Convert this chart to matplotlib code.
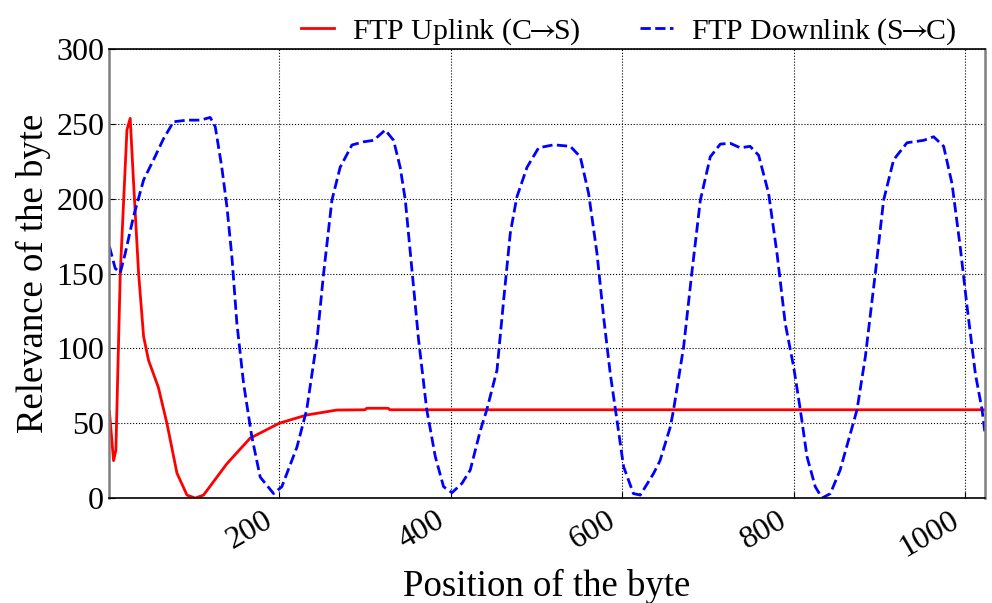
import matplotlib
matplotlib.use("Agg")
import matplotlib.pyplot as plt
from matplotlib.transforms import ScaledTranslation

plt.rcParams['font.family'] = ['Liberation Serif', 'DejaVu Serif']
plt.rcParams['mathtext.fontset'] = 'stix'

# Uplink (C->S) series: positions and relevance values
up_x = [2, 6.8, 9.5, 14.6, 22.4, 26.2, 30, 36, 41.8, 47.6, 59, 69, 80.7, 92.4, 102,
        111.7, 139, 166, 200, 232, 267, 300, 302, 327, 329, 400, 600, 800, 1023]
up_y = [57.7, 25, 32, 150, 246, 253.7, 212, 150, 108, 92, 74, 50, 16.7, 2, 0,
        2, 23, 40, 50, 55.5, 58.8, 59, 60, 60, 59, 59, 59, 59, 59]

# Downlink (S->C) series
down_x = [2, 8.7, 14.6, 20.4, 30, 41.8, 53.4, 65, 76.7, 92.4, 108, 119.5, 125.4, 133,
          139, 144.8, 150.6, 158.4, 168, 177.8, 193.4, 203, 220.6, 232, 244, 251.7,
          261.4, 271, 284.8, 298.3, 310, 323.6, 333.3, 341, 347, 354.8, 362.5, 372,
          382, 391.6, 401.4, 413, 422.7, 434.4, 442, 453.9, 461.6, 469.4, 477, 488.9,
          502.4, 520, 539.4, 551, 560.7, 570.5, 578.2, 586, 593.8, 601.5, 613, 621,
          636.5, 644, 656, 659.8, 671.5, 681, 691, 702.6, 714.3, 726, 737.6, 749, 759,
          770.6, 780.4, 790, 799.8, 807.6, 815.4, 825, 833, 842.6, 854, 873.7, 883.4,
          895, 904.7, 916.4, 932, 951.4, 963, 974.7, 984.5, 994, 1002, 1011.7, 1019.5,
          1023]
down_y = [168, 153.5, 150.5, 163.5, 188, 212.5, 226, 240, 251.4, 252.5, 252.5, 254.3,
          248, 221, 194.6, 161, 116.7, 76.6, 41, 14, 3, 7.6, 34, 59, 105.6, 150,
          199, 221, 235.9, 238, 239, 245.9, 239, 221, 199, 152, 105.6, 59,
          27.6, 7.6, 3.6, 9.8, 18.7, 45, 59, 85.5, 132, 177, 201, 221,
          234, 236, 235, 228, 203.6, 163.5, 121, 83, 52, 21, 3, 2,
          16.5, 25, 47.6, 59, 101, 150, 199, 228, 236.5, 237, 234, 235, 229,
          203.6, 163.5, 116.7, 87.7, 59, 27.6, 7.6, 0, 3, 18.7, 59, 94.4,
          150, 199, 226, 237.4, 239, 241.4, 235, 210, 168, 128, 83, 59,
          43]

x_ticks = [200, 400, 600, 800, 1000]
y_ticks = [0, 50, 100, 150, 200, 250, 300]

fig = plt.figure(figsize=(9.92, 6.03), dpi=100)
ax = fig.add_axes([0.1099, 0.174, 0.8831, 0.7447])

arrow = '$\\!\\!\\rightarrow\\!\\!$'
ax.plot(up_x, up_y, color='red', lw=2.0, linestyle='-', label='FTP Uplink (C' + arrow + 'S)')
ax.plot(down_x, down_y, color='blue', lw=2.0, linestyle='--', label='FTP Downlink (S' + arrow + 'C)')

ax.set_xlim(1.5, 1023)
ax.set_ylim(0, 300)
ax.set_xticks(x_ticks)
ax.set_yticks(y_ticks)
ax.tick_params(axis='both', labelsize=23, direction='in', length=4, color='black')
ax.tick_params(axis='x', pad=6)
offset = ScaledTranslation(-16 / 100, 0, fig.dpi_scale_trans)
for lab in ax.get_xticklabels():
    lab.set_rotation(30)
    lab.set_ha('right')
    lab.set_rotation_mode('anchor')
    lab.set_transform(lab.get_transform() + offset)

ax.grid(True, linestyle=':', color='black', lw=0.8)
ax.set_axisbelow(True)

for side in ['left', 'right']:
    ax.spines[side].set_color('#808080')
    ax.spines[side].set_linewidth(1.8)
for side in ['top', 'bottom']:
    ax.spines[side].set_color('black')
    ax.spines[side].set_linewidth(1.2)

ax.set_xlabel('Position of the byte', fontsize=26.5, labelpad=4)
ax.set_ylabel('Relevance of the byte', fontsize=26.5, labelpad=4)

leg = ax.legend(loc='lower right', bbox_to_anchor=(0.977, 0.985), ncol=2, frameon=False,
                fontsize=21.5, handlelength=1.1, columnspacing=2.0, handletextpad=0.6,
                borderaxespad=0.1, borderpad=0.2)

fig.savefig('out.png', dpi=100)
